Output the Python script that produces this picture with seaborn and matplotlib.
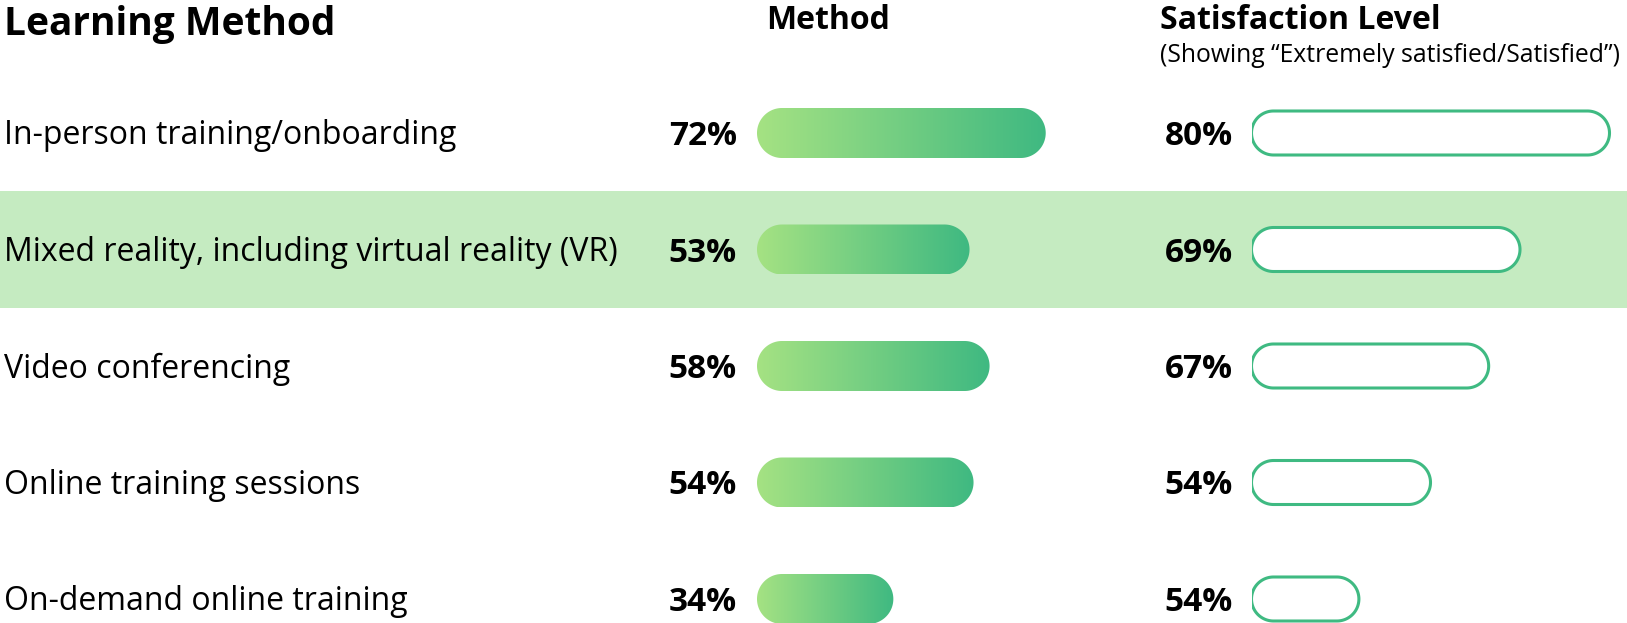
import numpy as np
import pandas as pd
import seaborn as sns
import matplotlib.pyplot as plt
from matplotlib.path import Path
from matplotlib.patches import PathPatch
from matplotlib.colors import LinearSegmentedColormap

# Data
methods = ["In-person training/onboarding",
           "Mixed reality, including virtual reality (VR)",
           "Video conferencing",
           "Online training sessions",
           "On-demand online training"]
method_pct = [72, 53, 58, 54, 34]
satisfied_pct = [80, 69, 67, 54, 54]
# the outline bars in the source are not drawn to their labels, so keep their drawn lengths apart
sat_bar_len = [80, 60, 53, 40, 24]
highlight_row = 1

df = pd.DataFrame({"method": methods, "pct": method_pct,
                   "sat": satisfied_pct, "sat_len": sat_bar_len})

# colours
light_green = "#a5e283"
dark_green = "#3fb981"
outline_green = "#3fba82"
band_color = "#c5ebc1"
grad_cmap = LinearSegmentedColormap.from_list("grad", [light_green, dark_green])

W, H = 1627, 623
sns.set_theme(style="white")
plt.rcParams['font.family'] = ['Open Sans', 'DejaVu Sans']

fig = plt.figure(figsize=(W / 100, H / 100), dpi=100)
fig.patch.set_facecolor("white")

# row layout in pixels: first row centre and spacing
row0, step = 133, 116.5
top_px = row0 - step / 2
bot_px = top_px + step * len(methods)


def axes_at(left_px, width_px):
    return fig.add_axes([left_px / W, 1 - bot_px / H, width_px / W, (bot_px - top_px) / H])


ax_bg = axes_at(0, W)
ax_m = axes_at(757, 75 * 4.01)
ax_s = axes_at(1251.5, 82 * 4.475)
for ax in (ax_bg, ax_m, ax_s):
    ax.set_facecolor("none")

# highlighted band behind one row
ax_bg.axhspan(highlight_row - 0.5, highlight_row + 0.5, color=band_color, lw=0)

# bars through seaborn, then reshaped into pills
sns.barplot(data=df, x="pct", y="method", orient="h", ax=ax_m, width=50 / step, color=dark_green)
sns.barplot(data=df, x="sat_len", y="method", orient="h", ax=ax_s, width=44 / step, color=outline_green)


def fix_limits():
    for ax in (ax_bg, ax_m, ax_s):
        ax.set_ylim(len(methods) - 0.5, -0.5)
    ax_bg.set_xlim(0, 1)
    ax_m.set_xlim(0, 75)
    ax_s.set_xlim(0, 82)


fix_limits()


def pill_from_bar(ax, bar):
    # rectangle -> pill with truly round ends (radius measured in pixels)
    p = ax.transData.transform([[0, 0], [1, 1]])
    ppx, ppy = abs(p[1, 0] - p[0, 0]), abs(p[1, 1] - p[0, 1])
    x0, y0, w, h = bar.get_x(), bar.get_y(), bar.get_width(), bar.get_height()
    ry = h / 2
    rx = ry * ppy / ppx
    yc = y0 + ry
    t = np.linspace(-np.pi / 2, np.pi / 2, 60)
    right = np.column_stack([x0 + w - rx + rx * np.cos(t), yc + ry * np.sin(t)])
    left = np.column_stack([x0 + rx - rx * np.cos(t), yc - ry * np.sin(t)])
    verts = np.vstack([right, left, right[:1]])
    return Path(verts, closed=True), (x0, y0, w, h)


grad = np.linspace(0, 1, 256).reshape(1, -1)
for bar in list(ax_m.patches):
    path, (x0, y0, w, h) = pill_from_bar(ax_m, bar)
    bar.remove()
    pill = PathPatch(path, facecolor="none", edgecolor="none")
    ax_m.add_patch(pill)
    im = ax_m.imshow(grad, extent=[x0, x0 + w, y0 + h, y0], cmap=grad_cmap,
                     aspect="auto", interpolation="bicubic")
    im.set_clip_path(pill)

for bar in list(ax_s.patches):
    path, _ = pill_from_bar(ax_s, bar)
    bar.remove()
    ax_s.add_patch(PathPatch(path, facecolor="white", edgecolor=outline_green, lw=2.2))

fix_limits()
for ax in (ax_bg, ax_m, ax_s):
    ax.axis("off")

# row labels and value labels
for i, row in df.iterrows():
    ax_bg.annotate(row["method"], xy=(0, i), xytext=(4, -11.5), textcoords="offset pixels",
                   ha="left", va="baseline", fontsize=23, color="black")
    ax_m.annotate(f"{row['pct']}%", xy=(0, i), xytext=(-20, -12), textcoords="offset pixels",
                  ha="right", va="baseline", fontsize=24, fontweight="bold", color="black")
    ax_s.annotate(f"{row['sat']}%", xy=(0, i), xytext=(-18.5, -12), textcoords="offset pixels",
                  ha="right", va="baseline", fontsize=24, fontweight="bold", color="black")

# headers
fig.text(4 / W, 1 - 35 / H, "Learning Method", ha="left", va="baseline",
         fontsize=28, fontweight="bold", color="black")
fig.text(766 / W, 1 - 29.3 / H, "Method", ha="left", va="baseline",
         fontsize=23, fontweight="bold", color="black")
fig.text(1160 / W, 1 - 29 / H, "Satisfaction Level", ha="left", va="baseline",
         fontsize=23, fontweight="bold", color="black")
fig.text(1160 / W, 1 - 61.5 / H, "(Showing \u201cExtremely satisfied/Satisfied\u201d)", ha="left",
         va="baseline", fontsize=17.8, color="black")

fig.savefig("out.png", dpi=100, facecolor="white")
